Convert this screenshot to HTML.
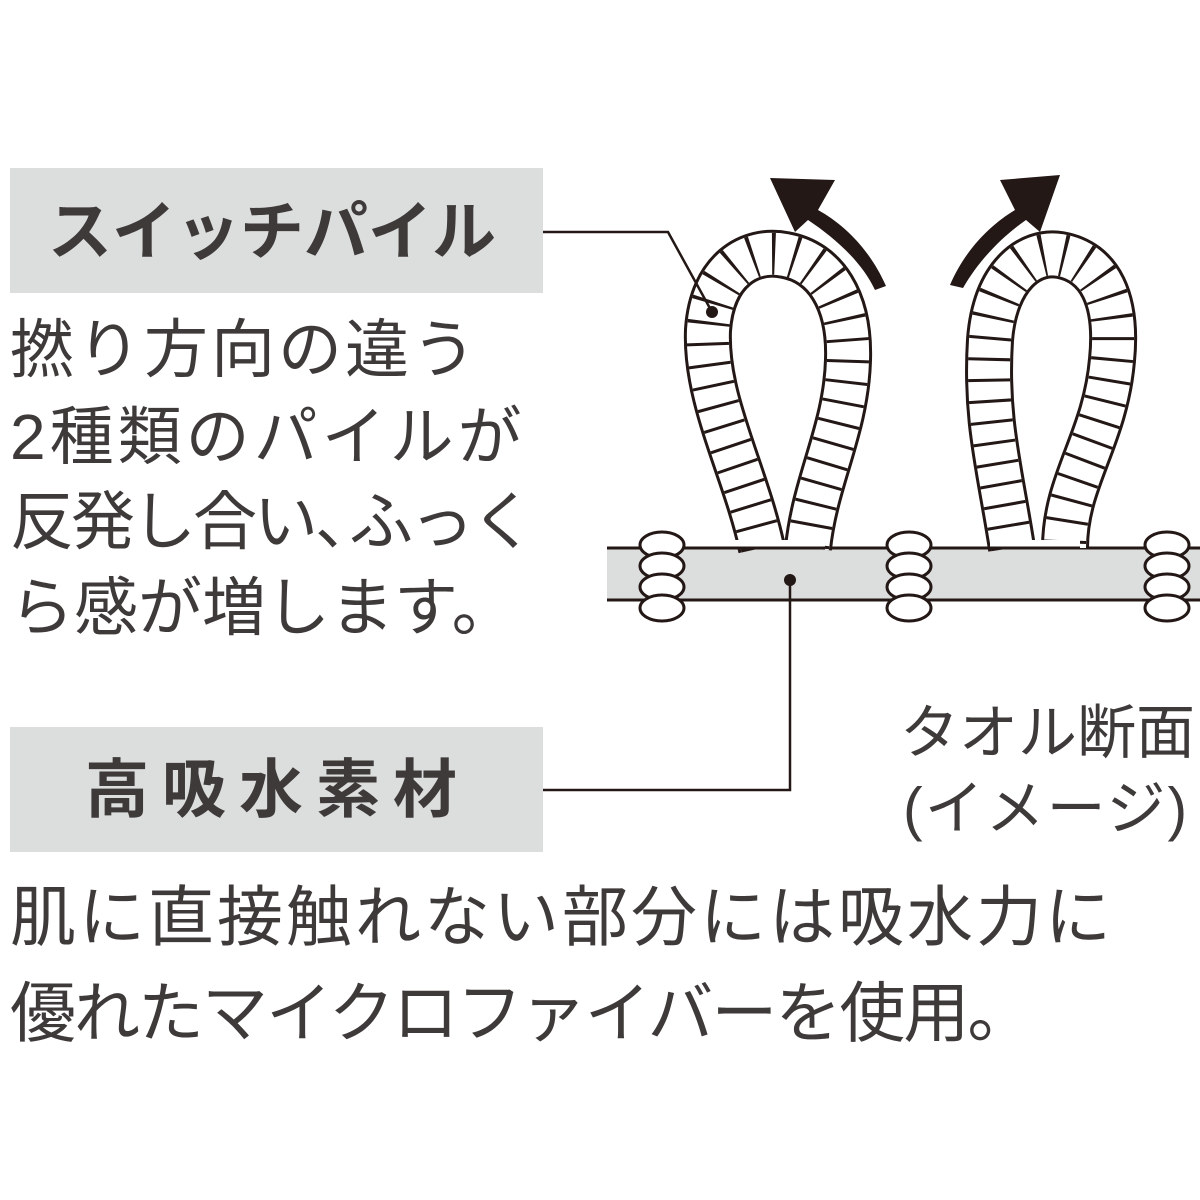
<!DOCTYPE html>
<html><head><meta charset="utf-8"><style>
html,body{margin:0;padding:0;background:#fff}
body{width:1200px;height:1200px;position:relative;overflow:hidden;font-family:"Liberation Sans","Noto Sans CJK JP",sans-serif;color:#3e3a39}
.box{position:absolute;left:10px;width:533px;height:125px;background:#dcdddd}
.h{position:absolute;font-weight:bold;font-size:64px;line-height:1;white-space:nowrap}
.t{position:absolute;font-size:64px;line-height:1;white-space:nowrap;left:10px}
svg{position:absolute;left:0;top:0}
</style></head><body>
<div class="box" style="top:168px"></div>
<div class="box" style="top:727px"></div>
<div class="h" style="left:48px;top:200px">スイッチパイル</div>
<div class="h" style="left:85px;top:758px;letter-spacing:13px">高吸水素材</div>
<div class="t" style="top:318px;letter-spacing:3px">撚り方向の違う</div>
<div class="t" style="top:405px;letter-spacing:4px">2種類のパイルが</div>
<div class="t" style="top:490px;letter-spacing:-3px">反発し合い<span style="letter-spacing:-30px">、</span>ふっく</div>
<div class="t" style="top:576px">ら感が増します。</div>
<div class="t" style="top:884px;font-size:66px;letter-spacing:3px">肌に直接触れない部分には吸水力に</div>
<div class="t" style="top:980px;font-size:66px;letter-spacing:-2px">優れたマイクロファイバーを使用。</div>
<div class="t" style="left:900px;top:704px;font-size:59px">タオル断面</div>
<div class="t" style="left:903px;top:780px;font-size:59px;letter-spacing:2px">(イメージ)</div>
<svg width="1200" height="1200" viewBox="0 0 1200 1200">
<rect x="607" y="548" width="593" height="52" fill="#dcdddd"/>
<line x1="607" y1="548" x2="1200" y2="548" stroke="#231815" stroke-width="3"/>
<line x1="607" y1="600" x2="1200" y2="600" stroke="#231815" stroke-width="3"/>
<g fill="none" stroke-linecap="butt">
<path id="l1" d="M762 548 C745 470 705 400 708 330 C712 270 750 248 785 255 C825 262 850 300 848 360 C846 430 815 480 808 548"/>
<path id="l2" d="M1012 548 C1000 470 985 420 990 340 C995 275 1030 250 1060 255 C1100 262 1118 300 1112 360 C1105 440 1065 480 1065 548"/>
<use href="#l1" stroke="#231815" stroke-width="48"/>
<use href="#l1" stroke="#fff" stroke-width="42"/>
<use href="#l1" stroke="#231815" stroke-width="42" stroke-dasharray="3 18"/>
<use href="#l2" stroke="#231815" stroke-width="48"/>
<use href="#l2" stroke="#fff" stroke-width="42"/>
<use href="#l2" stroke="#231815" stroke-width="42" stroke-dasharray="3 18"/>
</g>
<rect x="735" y="540" width="90" height="8" fill="#fff"/>
<rect x="990" y="540" width="90" height="8" fill="#fff"/>
<line x1="735" y1="548" x2="825" y2="548" stroke="#231815" stroke-width="3"/>
<line x1="990" y1="548" x2="1080" y2="548" stroke="#231815" stroke-width="3"/>
<g fill="#fff" stroke="#231815" stroke-width="3">
<g><ellipse cx="662" cy="545" rx="22" ry="13"/><ellipse cx="662" cy="566" rx="22" ry="13"/><ellipse cx="662" cy="587" rx="22" ry="13"/><ellipse cx="662" cy="608" rx="22" ry="13"/></g>
<g transform="translate(247,0)"><ellipse cx="662" cy="545" rx="22" ry="13"/><ellipse cx="662" cy="566" rx="22" ry="13"/><ellipse cx="662" cy="587" rx="22" ry="13"/><ellipse cx="662" cy="608" rx="22" ry="13"/></g>
<g transform="translate(505,0)"><ellipse cx="662" cy="545" rx="22" ry="13"/><ellipse cx="662" cy="566" rx="22" ry="13"/><ellipse cx="662" cy="587" rx="22" ry="13"/><ellipse cx="662" cy="608" rx="22" ry="13"/></g>
</g>
<path d="M886 286 C870 250 845 225 818 210 L835 180 L770 178 L795 232 L808 220 C835 238 862 262 875 290 Z" fill="#231815"/>
<path d="M950 285 C965 250 990 225 1015 210 L1000 180 L1060 175 L1040 232 L1026 220 C1000 238 978 262 963 288 Z" fill="#231815"/>
<polyline points="543,232 668,232 712,312" fill="none" stroke="#231815" stroke-width="2.5"/>
<circle cx="712" cy="312" r="6" fill="#231815"/>
<polyline points="543,790 790,790 790,580" fill="none" stroke="#231815" stroke-width="2.5"/>
<circle cx="790" cy="580" r="6" fill="#231815"/>
</svg>
</body></html>
